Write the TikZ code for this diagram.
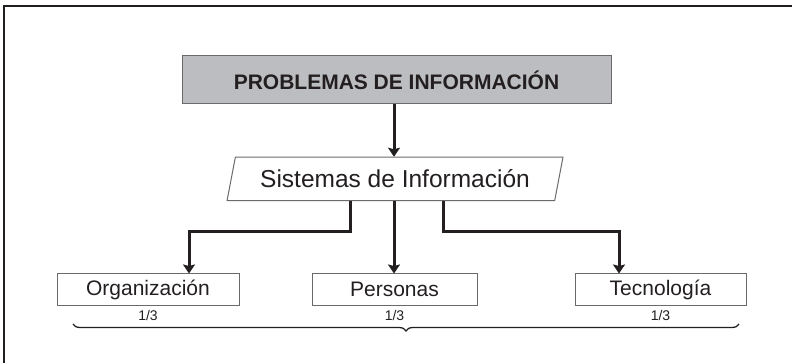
\documentclass[tikz,border=0pt]{standalone}
\usepackage{fontspec}
\setmainfont{Liberation Sans}
\usetikzlibrary{shapes.geometric,arrows.meta,decorations.pathreplacing}
\definecolor{ink}{HTML}{231F20}
\definecolor{boxgray}{HTML}{BCBDC0}
\definecolor{edge}{HTML}{6A6A6A}

\begin{document}
\begin{tikzpicture}[x=1pt,y=-1pt,
  flow/.style={line width=3pt,draw=ink,-{Stealth[length=9pt,width=12pt,inset=1.5pt]}},
  leaf/.style={rectangle,draw=edge,line width=1pt,text=ink,font=\fontsize{21}{23}\selectfont,minimum height=31pt,inner sep=0pt}]
\useasboundingbox (0,0) rectangle (792,363);
\draw[ink,line width=1.5pt] (4,370) -- (4,6) -- (800,6);

\path (396.5,80) node[rectangle,draw=edge,line width=1pt,fill=boxgray,minimum width=429pt,minimum height=48pt,
  font=\bfseries\fontsize{21}{24}\selectfont,text=ink] (prob) {PROBLEMAS DE INFORMACIÓN};

\path (395,179) node[trapezium,trapezium left angle=69,trapezium right angle=111,trapezium stretches=true,
  draw=edge,line width=1pt,minimum width=336pt,minimum height=43.5pt,inner sep=0pt,
  font=\fontsize{24.5}{27}\selectfont,text=ink] (sist) {Sistemas de Información};
\draw[flow] (prob.south -| 394,0) -- (sist.north -| 394,0);

\path (148,289.5) node[leaf,minimum width=182pt] (org) {Organización};
\path (394.5,289.5) node[leaf,minimum width=165pt] (pers) {Personas};
\path (660.5,289.5) node[leaf,minimum width=171pt] (tec) {Tecnología};

\draw[flow] (sist.south -| 350,0) |- (189,232) -- (org.north -| 189,0);
\draw[flow] (sist.south -| 394,0) -- (pers.north -| 394,0);
\draw[flow] (sist.south -| 443,0) |- (619,232) -- (tec.north -| 619,0);

\path (org.south) node[below=1pt,font=\fontsize{14}{15}\selectfont,text=ink] (orgfr) {1/3};
\path (pers.south) node[below=1pt,font=\fontsize{14}{15}\selectfont,text=ink] (persfr) {1/3};
\path (tec.south) node[below=1pt,font=\fontsize{14}{15}\selectfont,text=ink] (tecfr) {1/3};

\draw[ink,line width=1.3pt,decorate,decoration={brace,mirror,amplitude=7pt,aspect=0.5}] (73,324) -- (739,324);
\end{tikzpicture}
\end{document}
